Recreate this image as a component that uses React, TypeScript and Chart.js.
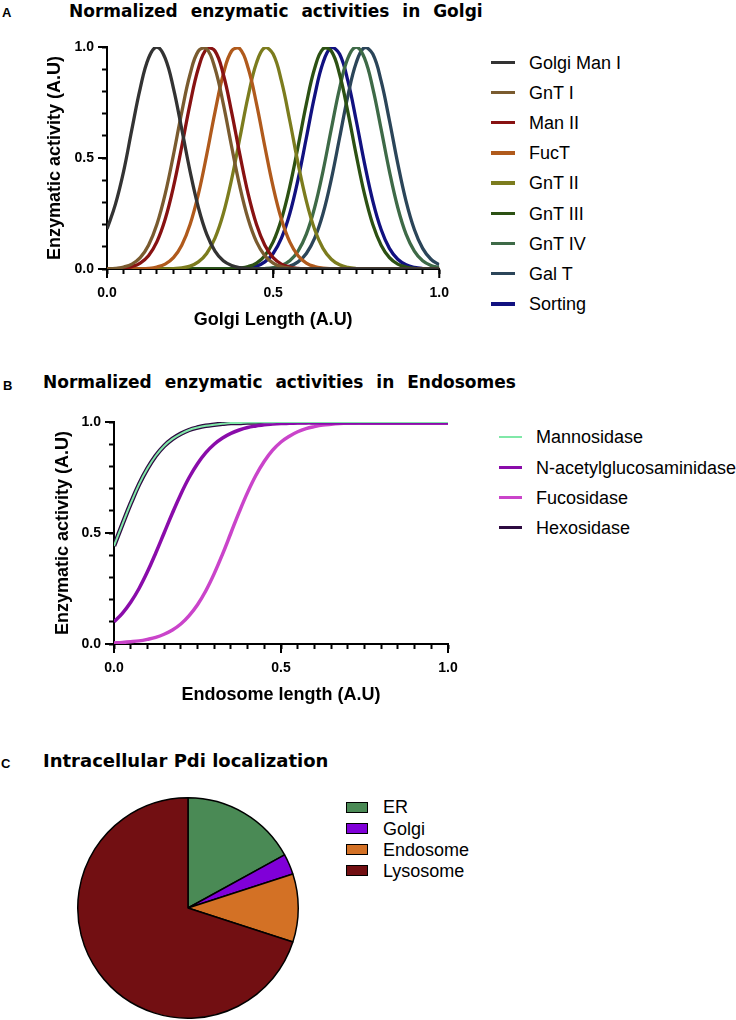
import React, { useEffect, useRef } from 'react';
import { Chart, registerables } from 'chart.js';

Chart.register(...registerables);

// ---------- Panel A data (Golgi) ----------
const GOLGI_X = [0, 0.025, 0.05, 0.075, 0.1, 0.125, 0.15, 0.175, 0.2, 0.225, 0.25, 0.275, 0.3, 0.325, 0.35, 0.375, 0.4, 0.425, 0.45, 0.475, 0.5, 0.525, 0.55, 0.575, 0.6, 0.625, 0.65, 0.675, 0.7, 0.725, 0.75, 0.775, 0.8, 0.825, 0.85, 0.875, 0.9, 0.925, 0.95, 0.975, 1];
const GOLGI_MAN_I = [0.18, 0.29, 0.44, 0.63, 0.814, 0.95, 1, 0.95, 0.814, 0.63, 0.44, 0.277, 0.157, 0.081, 0.037, 0.016, 0.006, 0.002, 0, 0, 0, 0, 0, 0, 0, 0, 0, 0, 0, 0, 0, 0, 0, 0, 0, 0, 0, 0, 0, 0, 0];
const GNT_I = [0.001, 0.003, 0.009, 0.022, 0.051, 0.107, 0.2, 0.337, 0.514, 0.707, 0.877, 0.982, 0.992, 0.904, 0.744, 0.552, 0.37, 0.224, 0.122, 0.06, 0.027, 0.011, 0.004, 0.001, 0, 0, 0, 0, 0, 0, 0, 0, 0, 0, 0, 0, 0, 0, 0, 0, 0];
const MAN_II = [0, 0.001, 0.004, 0.011, 0.027, 0.06, 0.122, 0.224, 0.37, 0.552, 0.744, 0.904, 0.992, 0.982, 0.877, 0.707, 0.514, 0.337, 0.2, 0.107, 0.051, 0.022, 0.009, 0.003, 0.001, 0, 0, 0, 0, 0, 0, 0, 0, 0, 0, 0, 0, 0, 0, 0, 0];
const FUCT = [0, 0, 0, 0, 0.001, 0.003, 0.009, 0.022, 0.051, 0.107, 0.2, 0.337, 0.514, 0.707, 0.877, 0.982, 0.992, 0.904, 0.744, 0.552, 0.37, 0.224, 0.122, 0.06, 0.027, 0.011, 0.004, 0.001, 0, 0, 0, 0, 0, 0, 0, 0, 0, 0, 0, 0, 0];
const GNT_II = [0, 0, 0, 0, 0, 0, 0, 0, 0.002, 0.005, 0.013, 0.032, 0.07, 0.139, 0.249, 0.404, 0.591, 0.78, 0.929, 0.998, 0.968, 0.847, 0.669, 0.476, 0.306, 0.178, 0.093, 0.044, 0.019, 0.007, 0.002, 0.001, 0, 0, 0, 0, 0, 0, 0, 0, 0];
const GNT_III = [0, 0, 0, 0, 0, 0, 0, 0, 0, 0, 0, 0, 0, 0, 0, 0.001, 0.004, 0.011, 0.027, 0.06, 0.122, 0.224, 0.37, 0.552, 0.744, 0.904, 0.992, 0.982, 0.877, 0.707, 0.514, 0.337, 0.2, 0.107, 0.051, 0.022, 0.009, 0.003, 0.001, 0, 0];
const GNT_IV = [0, 0, 0, 0, 0, 0, 0, 0, 0, 0, 0, 0, 0, 0, 0, 0, 0, 0, 0.001, 0.002, 0.006, 0.016, 0.037, 0.081, 0.157, 0.277, 0.44, 0.63, 0.814, 0.95, 1, 0.95, 0.814, 0.63, 0.44, 0.277, 0.157, 0.081, 0.037, 0.016, 0.006];
const GAL_T = [0, 0, 0, 0, 0, 0, 0, 0, 0, 0, 0, 0, 0, 0, 0, 0, 0, 0, 0, 0.001, 0.002, 0.005, 0.013, 0.032, 0.07, 0.139, 0.249, 0.404, 0.591, 0.78, 0.929, 0.998, 0.968, 0.847, 0.669, 0.476, 0.306, 0.178, 0.093, 0.044, 0.019];
const SORTING = [0, 0, 0, 0, 0, 0, 0, 0, 0, 0, 0, 0, 0, 0, 0, 0, 0.002, 0.005, 0.013, 0.032, 0.07, 0.139, 0.249, 0.404, 0.591, 0.78, 0.929, 0.998, 0.968, 0.847, 0.669, 0.476, 0.306, 0.178, 0.093, 0.044, 0.019, 0.007, 0.002, 0.001, 0];
const GOLGI_NAMES = ['Golgi Man I', 'GnT I', 'Man II', 'FucT', 'GnT II', 'GnT III', 'GnT IV', 'Gal T', 'Sorting'];
const GOLGI_VALUES = [GOLGI_MAN_I, GNT_I, MAN_II, FUCT, GNT_II, GNT_III, GNT_IV, GAL_T, SORTING];
const GOLGI_COLORS = ['#333333', '#7A5B2F', '#881212', '#B05A1C', '#7C7C1E', '#2C5113', '#3E6A47', '#2B4559', '#111180'];

// ---------- Panel B data (Endosomes) ----------
const ENDO_X = [0, 0.025, 0.05, 0.075, 0.1, 0.125, 0.15, 0.175, 0.2, 0.225, 0.25, 0.275, 0.3, 0.325, 0.35, 0.375, 0.4, 0.425, 0.45, 0.475, 0.5, 0.525, 0.55, 0.575, 0.6, 0.625, 0.65, 0.675, 0.7, 0.725, 0.75, 0.775, 0.8, 0.825, 0.85, 0.875, 0.9, 0.925, 0.95, 0.975, 1];
const MANNOSIDASE = [0.442, 0.539, 0.633, 0.719, 0.79, 0.848, 0.892, 0.924, 0.947, 0.964, 0.975, 0.983, 0.988, 0.992, 0.995, 0.996, 0.998, 0.998, 0.999, 0.999, 1, 1, 1, 1, 1, 1, 1, 1, 1, 1, 1, 1, 1, 1, 1, 1, 1, 1, 1, 1, 1];
const N_ACETYL = [0.1, 0.138, 0.188, 0.25, 0.325, 0.41, 0.5, 0.59, 0.675, 0.75, 0.812, 0.862, 0.9, 0.928, 0.949, 0.964, 0.975, 0.982, 0.988, 0.991, 0.993, 0.994, 0.995, 0.996, 0.996, 0.996, 0.996, 0.996, 0.996, 0.996, 0.996, 0.996, 0.996, 0.996, 0.996, 0.996, 0.996, 0.996, 0.996, 0.996, 0.996];
const FUCOSIDASE = [0.005, 0.007, 0.01, 0.014, 0.021, 0.03, 0.044, 0.063, 0.09, 0.128, 0.177, 0.24, 0.317, 0.405, 0.5, 0.595, 0.683, 0.76, 0.823, 0.873, 0.91, 0.936, 0.956, 0.97, 0.979, 0.986, 0.99, 0.993, 0.995, 0.996, 0.996, 0.996, 0.996, 0.996, 0.996, 0.996, 0.996, 0.996, 0.996, 0.996, 0.996];
const HEXOSIDASE = [0.442, 0.539, 0.633, 0.719, 0.79, 0.848, 0.892, 0.924, 0.947, 0.964, 0.975, 0.983, 0.988, 0.992, 0.995, 0.996, 0.998, 0.998, 0.999, 0.999, 1, 1, 1, 1, 1, 1, 1, 1, 1, 1, 1, 1, 1, 1, 1, 1, 1, 1, 1, 1, 1];
const ENDO_NAMES = ['Mannosidase', 'N-acetylglucosaminidase', 'Fucosidase', 'Hexosidase'];
const ENDO_VALUES = [MANNOSIDASE, N_ACETYL, FUCOSIDASE, HEXOSIDASE];
const ENDO_COLORS = ['#80E8A8', '#8A0CAA', '#CA44CA', '#2D0A40'];
const ENDO_WIDTHS = [2, 3.5, 3.5, 4.5];

// ---------- Panel C data (pie) ----------
const PIE_LABELS = ['ER', 'Golgi', 'Endosome', 'Lysosome'];
const PIE_VALUES = [17, 3, 10, 70];
const PIE_COLORS = ['#4A8A55', '#8000D8', '#D37125', '#720F12'];

// ---------- Axis ticks ----------
const X_MAJOR_TICKS = [0, 0.5, 1];
const Y_MAJOR_TICKS = [0, 0.5, 1];
const X_TICK_STEP = 0.05;
const Y_TICK_STEP = 0.1;

const SANS = '"Liberation Sans", Arial, sans-serif';
const TITLE_FONT = '"DejaVu Sans", "Liberation Sans", sans-serif';

Chart.defaults.font.family = SANS;
Chart.defaults.color = '#000';

const isMajor = (v: number) => Math.abs(v * 2 - Math.round(v * 2)) < 1e-6;

const majorTickPlugin = {
  id: 'majorTickExt',
  afterDraw(chart: any) {
    const { ctx, chartArea, scales } = chart;
    if (!scales.x || !scales.y) return;
    ctx.save();
    ctx.strokeStyle = '#000';
    ctx.lineWidth = 2;
    for (const v of X_MAJOR_TICKS) {
      const px = scales.x.getPixelForValue(v);
      ctx.beginPath();
      ctx.moveTo(px, chartArea.bottom);
      ctx.lineTo(px, chartArea.bottom + 9);
      ctx.stroke();
    }
    for (const v of Y_MAJOR_TICKS) {
      const py = scales.y.getPixelForValue(v);
      ctx.beginPath();
      ctx.moveTo(chartArea.left, py);
      ctx.lineTo(chartArea.left - 9, py);
      ctx.stroke();
    }
    ctx.restore();
  },
};

function lineOptions(xTitle: string, yWidth: number, padding: any) {
  return {
    responsive: false,
    maintainAspectRatio: false,
    animation: false as const,
    layout: { padding },
    plugins: { legend: { display: false }, tooltip: { enabled: false } },
    elements: { point: { radius: 0 } },
    scales: {
      x: {
        type: 'linear' as const,
        min: 0,
        max: 1,
        afterFit: (s: any) => { s.height = 66; },
        ticks: {
          stepSize: X_TICK_STEP,
          autoSkip: false,
          maxRotation: 0,
          padding: 11,
          font: { size: 14, weight: 'bold' as const },
          color: '#000',
          callback: (v: any) => (isMajor(Number(v)) ? Number(v).toFixed(1) : ''),
        },
        grid: { display: true, drawOnChartArea: false, drawTicks: true, tickLength: 5, tickWidth: 2, tickColor: '#000' },
        border: { display: true, color: '#000', width: 2 },
        title: { display: true, text: xTitle, color: '#000', font: { size: 18, weight: 'bold' as const }, padding: { top: 4, bottom: 4 } },
      },
      y: {
        type: 'linear' as const,
        min: 0,
        max: 1,
        afterFit: (s: any) => { s.width = yWidth; },
        ticks: {
          stepSize: Y_TICK_STEP,
          autoSkip: false,
          padding: 8,
          font: { size: 14, weight: 'bold' as const },
          color: '#000',
          callback: (v: any) => (isMajor(Number(v)) ? Number(v).toFixed(1) : ''),
        },
        grid: { display: true, drawOnChartArea: false, drawTicks: true, tickLength: 5, tickWidth: 2, tickColor: '#000' },
        border: { display: true, color: '#000', width: 2 },
        title: { display: true, text: 'Enzymatic activity (A.U)', color: '#000', font: { size: 18, weight: 'bold' as const }, padding: { top: 4, bottom: 4 } },
      },
    },
  };
}

const abs = (left: number, top: number, extra: any = {}) => ({ position: 'absolute' as const, left, top, ...extra });

function Text({ left, baseline, size, bold, family, children, extra }: any) {
  const top = baseline - 0.847 * size;
  return (
    <div style={abs(left, top, { fontFamily: family || SANS, fontSize: size, lineHeight: `${size}px`, fontWeight: bold ? 'bold' : 'normal', whiteSpace: 'nowrap', color: '#000', ...(extra || {}) })}>
      {children}
    </div>
  );
}

export default function App() {
  const refA = useRef<HTMLCanvasElement>(null);
  const refB = useRef<HTMLCanvasElement>(null);
  const refC = useRef<HTMLCanvasElement>(null);

  useEffect(() => {
    const chartA = new Chart(refA.current!, {
      type: 'line',
      data: {
        datasets: GOLGI_NAMES.map((name, i) => ({
          label: name,
          data: GOLGI_X.map((x, j) => ({ x, y: GOLGI_VALUES[i][j] })),
          borderColor: GOLGI_COLORS[i],
          backgroundColor: GOLGI_COLORS[i],
          borderWidth: 3.3,
          fill: false,
          tension: 0.4,
          pointRadius: 0,
        })),
      },
      options: lineOptions('Golgi Length (A.U)', 67, { left: 40, top: 47, right: 20, bottom: 0 }) as any,
      plugins: [majorTickPlugin],
    });

    const chartB = new Chart(refB.current!, {
      type: 'line',
      data: {
        datasets: ENDO_NAMES.map((name, i) => ({
          label: name,
          data: ENDO_X.map((x, j) => ({ x, y: ENDO_VALUES[i][j] })),
          borderColor: ENDO_COLORS[i],
          backgroundColor: ENDO_COLORS[i],
          borderWidth: ENDO_WIDTHS[i],
          fill: false,
          tension: 0.4,
          pointRadius: 0,
        })),
      },
      options: lineOptions('Endosome length (A.U)', 66, { left: 48, top: 22, right: 22, bottom: 0 }) as any,
      plugins: [majorTickPlugin],
    });

    const chartC = new Chart(refC.current!, {
      type: 'pie',
      data: {
        labels: PIE_LABELS,
        datasets: [{
          data: PIE_VALUES,
          backgroundColor: PIE_COLORS,
          borderColor: '#000',
          borderWidth: 1.5,
          hoverBorderWidth: 1.5,
        }],
      },
      options: {
        responsive: false,
        maintainAspectRatio: false,
        animation: false,
        layout: { padding: { left: 77, right: 21, top: 17, bottom: 1 } },
        plugins: { legend: { display: false }, tooltip: { enabled: false } },
      },
    });

    return () => {
      chartA.destroy();
      chartB.destroy();
      chartC.destroy();
    };
  }, []);

  const golgiRows = [62.3, 92.5, 122.7, 153, 183.2, 213.3, 243.5, 273.7, 304];
  const endoRows = [436.5, 467.3, 497.5, 527.5];
  const pieRows = [807, 828.5, 849.5, 870.5];

  return (
    <div style={{ position: 'absolute', left: 0, top: 0, width: 736, height: 1020, background: '#fff', overflow: 'hidden' }}>
      {/* Panel A */}
      <Text left={2} baseline={17} size={13} bold>A</Text>
      <Text left={69} baseline={17.3} size={17} bold family={TITLE_FONT} extra={{ wordSpacing: 7 }}>Normalized enzymatic activities in Golgi</Text>
      <canvas ref={refA} width={460} height={335} style={abs(0, 0, { width: 460, height: 335 })} />
      {GOLGI_NAMES.map((name, i) => (
        <React.Fragment key={name}>
          <div style={abs(491, golgiRows[i] - 1.75, { width: 24, height: 3.5, background: GOLGI_COLORS[i] })} />
          <Text left={529} baseline={golgiRows[i] + 6.5} size={18}>{name}</Text>
        </React.Fragment>
      ))}

      {/* Panel B */}
      <Text left={3} baseline={390.5} size={13} bold>B</Text>
      <Text left={43} baseline={388.3} size={17} bold family={TITLE_FONT} extra={{ wordSpacing: 7 }}>Normalized enzymatic activities in Endosomes</Text>
      <canvas ref={refB} width={470} height={310} style={abs(0, 400, { width: 470, height: 310 })} />
      {ENDO_NAMES.map((name, i) => (
        <React.Fragment key={name}>
          <div style={abs(499, endoRows[i] - (i === 0 ? 1 : 1.75), { width: 23, height: i === 0 ? 2 : 3.5, background: ENDO_COLORS[i] })} />
          <Text left={536} baseline={endoRows[i] + 6.5} size={18}>{name}</Text>
        </React.Fragment>
      ))}

      {/* Panel C */}
      <Text left={1} baseline={768} size={13} bold>C</Text>
      <Text left={43} baseline={767.7} size={18} bold family={TITLE_FONT}>Intracellular Pdi localization</Text>
      <canvas ref={refC} width={320} height={240} style={abs(0, 780, { width: 320, height: 240 })} />
      {PIE_LABELS.map((name, i) => (
        <React.Fragment key={name}>
          <div style={abs(345.5, pieRows[i] - 5.5, { width: 22.5, height: 11, boxSizing: 'border-box', border: '1.5px solid #000', background: PIE_COLORS[i] })} />
          <Text left={383} baseline={pieRows[i] + 6.5} size={18}>{name}</Text>
        </React.Fragment>
      ))}
    </div>
  );
}
